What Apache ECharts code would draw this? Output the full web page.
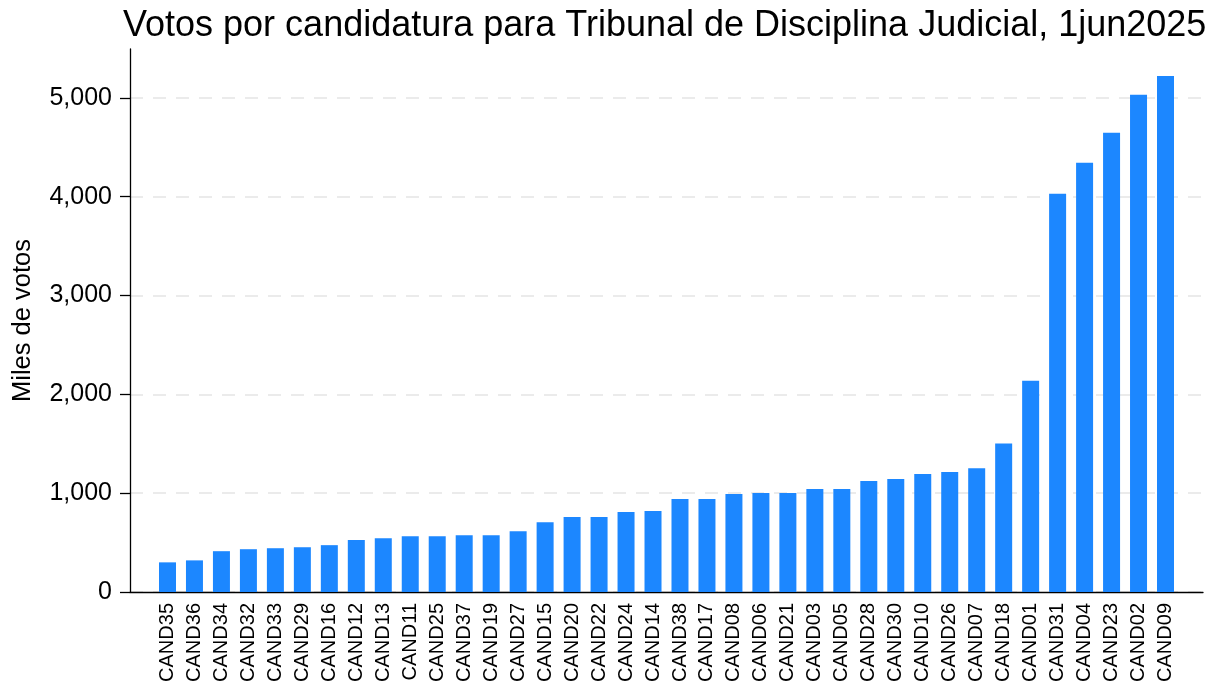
<!DOCTYPE html>
<html>
<head>
<meta charset="utf-8">
<script src="https://cdn.jsdelivr.net/npm/echarts@6/dist/echarts.min.js"></script>
<style>html,body{margin:0;padding:0;background:#fff}#c{width:1222px;height:687px}</style>
</head>
<body>
<div id="c"></div>
<script>
const categories = ["CAND35","CAND36","CAND34","CAND32","CAND33","CAND29","CAND16","CAND12","CAND13","CAND11","CAND25","CAND37","CAND19","CAND27","CAND15","CAND20","CAND22","CAND24","CAND14","CAND38","CAND17","CAND08","CAND06","CAND21","CAND03","CAND05","CAND28","CAND30","CAND10","CAND26","CAND07","CAND18","CAND01","CAND31","CAND04","CAND23","CAND02","CAND09"];
const votes = [300,320,413,433,443,453,474,525,545,565,565,575,575,616,707,758,758,809,819,941,941,991,1002,1002,1042,1042,1123,1144,1194,1215,1252,1502,2139,4031,4345,4648,5031,5223];
const yTicks = [0,1000,2000,3000,4000,5000];
const titleText = "Votos por candidatura para Tribunal de Disciplina Judicial, 1jun2025";
const yName = "Miles de votos";

const FONT = "'Liberation Sans', Arial, Helvetica, sans-serif";
const chart = echarts.init(document.getElementById('c'), null, {renderer: 'canvas'});
const idx = categories.map((_, i) => i);
chart.setOption({
  animation: false,
  backgroundColor: '#fff',
  title: {
    text: titleText, left: 118, top: 3,
    textStyle: {fontFamily: FONT, fontSize: 36, fontWeight: 'normal', color: '#000'}
  },
  grid: {left: 130, right: 19, top: 49, bottom: 95, containLabel: false},
  xAxis: {
    type: 'value', min: -1.39, max: 38.39,
    axisLine: {show: true, onZero: false, lineStyle: {color: '#000', width: 1.3}},
    axisTick: {show: false},
    splitLine: {show: false},
    axisLabel: {
      customValues: idx, rotate: 90, margin: 11,
      fontFamily: FONT, fontSize: 20, color: '#000',
      formatter: v => categories[Math.round(v)] || ''
    }
  },
  yAxis: {
    type: 'value', min: 0, max: 5495,
    name: yName, nameLocation: 'middle', nameGap: 94, nameRotate: 90,
    nameTextStyle: {fontFamily: FONT, fontSize: 25.5, color: '#000'},
    axisLine: {show: true, onZero: false, lineStyle: {color: '#000', width: 1.3}},
    axisTick: {show: true, length: 10, customValues: yTicks, lineStyle: {color: '#000', width: 1.3}},
    axisLabel: {customValues: yTicks, margin: 18, fontFamily: FONT, fontSize: 25, color: '#000',
      formatter: v => v.toLocaleString('en-US')},
    splitLine: {show: true, lineStyle: {color: '#ebebeb', width: 2, type: [13, 10]}}
  },
  series: [{
    type: 'bar',
    data: votes.map((v, i) => [i, v]),
    barWidth: 17,
    itemStyle: {color: '#1c87ff'},
    z: 3
  }]
});
</script>
</body>
</html>
